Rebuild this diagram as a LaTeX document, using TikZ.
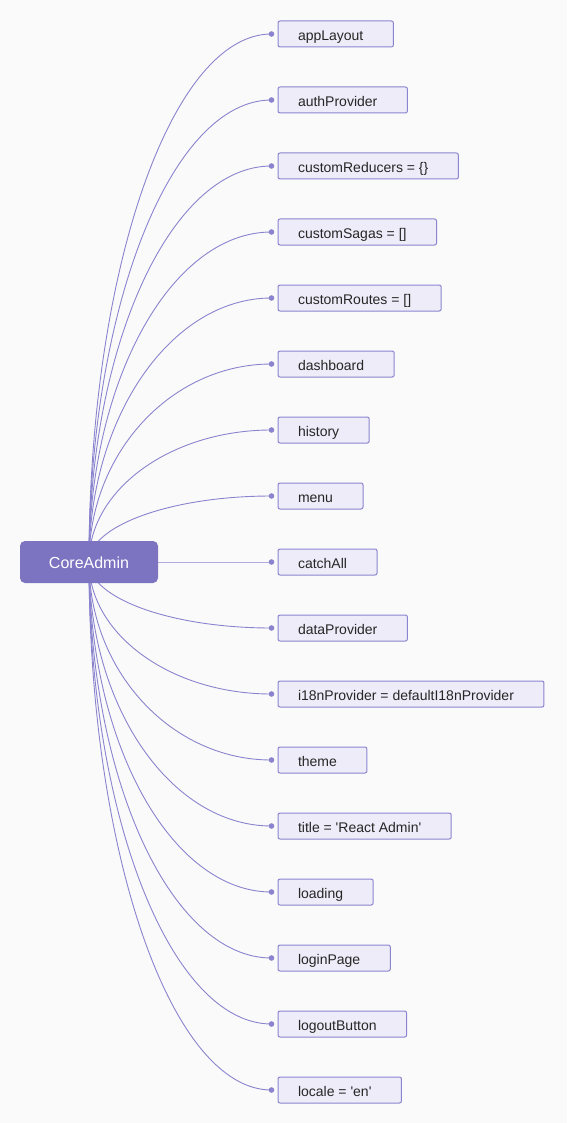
\documentclass[tikz,border=0pt]{standalone}
\usepackage{fontspec}
\setmainfont{Liberation Sans}
\usetikzlibrary{calc,positioning}
\definecolor{rootfill}{RGB}{124,115,193}
\definecolor{leaffill}{RGB}{237,236,248}
\definecolor{leafdraw}{RGB}{140,132,208}
\definecolor{linkcol}{RGB}{138,131,206}
\definecolor{pagebg}{RGB}{250,250,250}
\begin{document}
\begin{tikzpicture}[x=1pt,y=-1pt]
  \tikzset{leaf/.style={draw=leafdraw,line width=1pt,fill=leaffill,rounded corners=2pt,anchor=west,minimum height=26pt,inner xsep=0pt,inner ysep=0pt,text height=13.5pt,text depth=1pt,text=black!85,font=\fontsize{14}{16}\selectfont,execute at begin node=\hspace*{20pt},execute at end node=\hspace*{30pt}},
    root/.style={fill=rootfill,rounded corners=5pt,minimum width=138pt,minimum height=42pt,text height=13pt,text depth=0pt,text=white,font=\fontsize{16}{18}\selectfont},
    link/.style={draw=linkcol,line width=0.9pt},
    tip/.style={circle,fill=linkcol,inner sep=0pt,minimum size=5.6pt}}

  \fill[pagebg] (0,0) rectangle (567,1123);
  \coordinate (hub) at (89,562);

  \node[leaf] (appLayout) at (277.5,34) {appLayout};
  \node[leaf] (authProvider) at (277.5,100) {authProvider};
  \node[leaf] (customReducers) at (277.5,166) {customReducers = \{\}};
  \node[leaf] (customSagas) at (277.5,232) {customSagas = []};
  \node[leaf] (customRoutes) at (277.5,298) {customRoutes = []};
  \node[leaf] (dashboard) at (277.5,364) {dashboard};
  \node[leaf] (history) at (277.5,430) {history};
  \node[leaf] (menu) at (277.5,496) {menu};
  \node[leaf] (catchAll) at (277.5,562) {catchAll};
  \node[leaf] (dataProvider) at (277.5,628) {dataProvider};
  \node[leaf] (i18nProvider) at (277.5,694) {i18nProvider = defaultI18nProvider};
  \node[leaf] (theme) at (277.5,760) {theme};
  \node[leaf] (title) at (277.5,826) {title = \textquotesingle React Admin\textquotesingle};
  \node[leaf] (loading) at (277.5,892) {loading};
  \node[leaf] (loginPage) at (277.5,958) {loginPage};
  \node[leaf] (logoutButton) at (277.5,1024) {logoutButton};
  \node[leaf] (locale) at (277.5,1090) {locale = \textquotesingle en\textquotesingle};

  % links: quarter-ellipse from the hub to the dot before each box
  \foreach \n in {appLayout,authProvider,customReducers,customSagas,customRoutes,dashboard,history,menu,catchAll,dataProvider,i18nProvider,theme,title,loading,loginPage,logoutButton,locale}{
    \node[tip,left=3pt of \n] (\n-tip) {};
    \draw[link] (hub) .. controls ($(hub)!0.55!(hub |- \n-tip)$) and ($(\n-tip)!0.55!(\n-tip -| hub)$) .. (\n-tip.center);
  }

  \node[root] (core) at (hub) {CoreAdmin};
\end{tikzpicture}
\end{document}
